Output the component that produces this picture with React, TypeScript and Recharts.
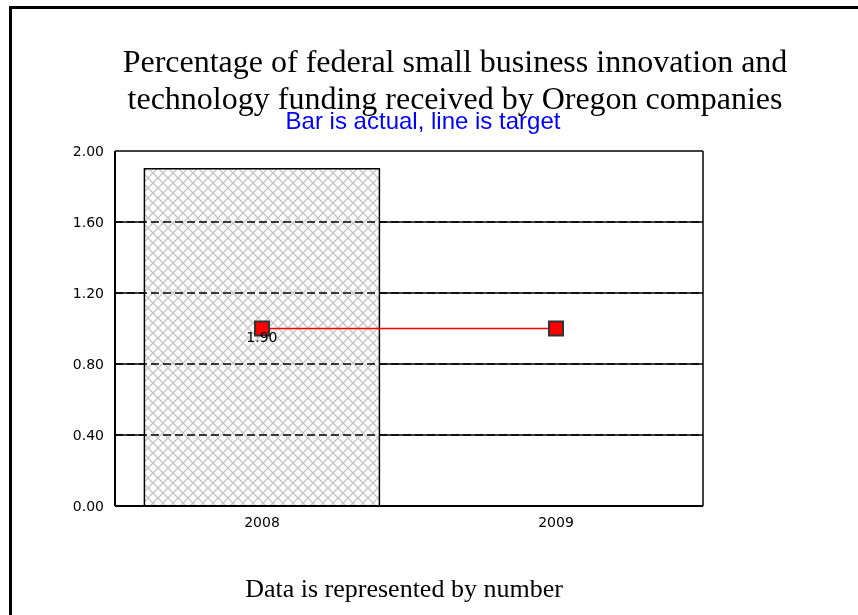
import { ComposedChart, Bar, Line, XAxis, YAxis, CartesianGrid, ReferenceLine, LabelList } from 'recharts';

const years = ['2008', '2009'];
const actual = [1.9, null];
const target = [1.0, 1.0];
const yTicks = [0, 0.4, 0.8, 1.2, 1.6, 2.0];
const innerGrid = [0.4, 0.8, 1.2, 1.6];

const data = years.map((y, i) => ({ year: y, actual: actual[i], target: target[i] }));

const tickStyle = { fontSize: 14, fill: '#000', fontFamily: '"DejaVu Sans", sans-serif' };

// red square marker with dark edge
function SquareDot(props: any) {
  const { cx, cy } = props;
  if (cx == null || cy == null) return null;
  return <rect x={cx - 7} y={cy - 7} width={14} height={14} fill="#ff0000" stroke="#333" strokeWidth={2} />;
}

export default function App() {
  return (
    <div style={{ position: 'relative', width: 858, height: 615 }}>
      <div style={{ position: 'fixed', left: 9, top: 6, width: 900, height: 700, borderLeft: '3px solid #000', borderTop: '3px solid #000' }} />
      <div style={{ position: 'absolute', left: 447, top: 35, transform: 'translateX(-50%)', whiteSpace: 'nowrap', textAlign: 'center', fontFamily: '"Liberation Serif", "Times New Roman", serif', fontSize: 32, lineHeight: '37px', color: '#000' }}>
        Percentage of federal small business innovation and<br />technology funding received by Oregon companies
      </div>
      <ComposedChart
        width={858}
        height={615}
        data={data}
        margin={{ top: 143, right: 163, left: 0, bottom: 87 }}
        style={{ position: 'absolute', left: 0, top: 0 }}
      >
        <defs>
          <pattern id="xhatch" width={10} height={10} patternUnits="userSpaceOnUse">
            <rect width={10} height={10} fill="#fff" />
            <path d="M0,0 L10,10 M10,0 L0,10" stroke="#c4c4c4" strokeWidth={1.3} />
          </pattern>
        </defs>
        <CartesianGrid
          yAxisId="l"
          stroke="#000"
          strokeWidth={1.5}
          verticalCoordinatesGenerator={(p: any) => [p.offset.left + p.offset.width]}
        />
        <XAxis dataKey="year" tickLine={false} axisLine={{ stroke: '#000', strokeWidth: 2 }} tick={tickStyle} height={30} tickMargin={5} />
        <YAxis yAxisId="l" domain={[0, 2]} ticks={yTicks} tickFormatter={(v: number) => v.toFixed(2)} tickLine={false} axisLine={{ stroke: '#000', strokeWidth: 2 }} tick={tickStyle} width={107} tickMargin={5} interval={0} />
        <Bar yAxisId="l" dataKey="actual" fill="url(#xhatch)" stroke="#000" strokeWidth={1.5} barCategoryGap="19%" isAnimationActive={false}>
          <LabelList dataKey="actual" position="center" formatter={(v: any) => (v == null ? '' : Number(v).toFixed(2))} style={{ fontSize: 14, fill: '#000', fontFamily: '"DejaVu Sans", sans-serif' }} />
        </Bar>
        {innerGrid.map((v) => (
          <ReferenceLine key={v} yAxisId="l" y={v} stroke="#000" strokeWidth={1.5} strokeDasharray="8 4" />
        ))}
        <Line yAxisId="l" dataKey="target" stroke="#ff0000" strokeWidth={1.5} dot={<SquareDot />} activeDot={false} isAnimationActive={false} />
      </ComposedChart>
      <div style={{ position: 'absolute', left: 415, top: 100, transform: 'translateX(-50%)', whiteSpace: 'nowrap', fontFamily: '"Liberation Sans", Arial, sans-serif', fontSize: 24, color: '#0000ff', lineHeight: '26px' }}>
        Bar is actual, line is target
      </div>
      <div style={{ position: 'absolute', left: 396, top: 566, transform: 'translateX(-50%)', whiteSpace: 'nowrap', fontFamily: '"Liberation Serif", "Times New Roman", serif', fontSize: 26, lineHeight: '30px', color: '#000' }}>
        Data is represented by number
      </div>
    </div>
  );
}
